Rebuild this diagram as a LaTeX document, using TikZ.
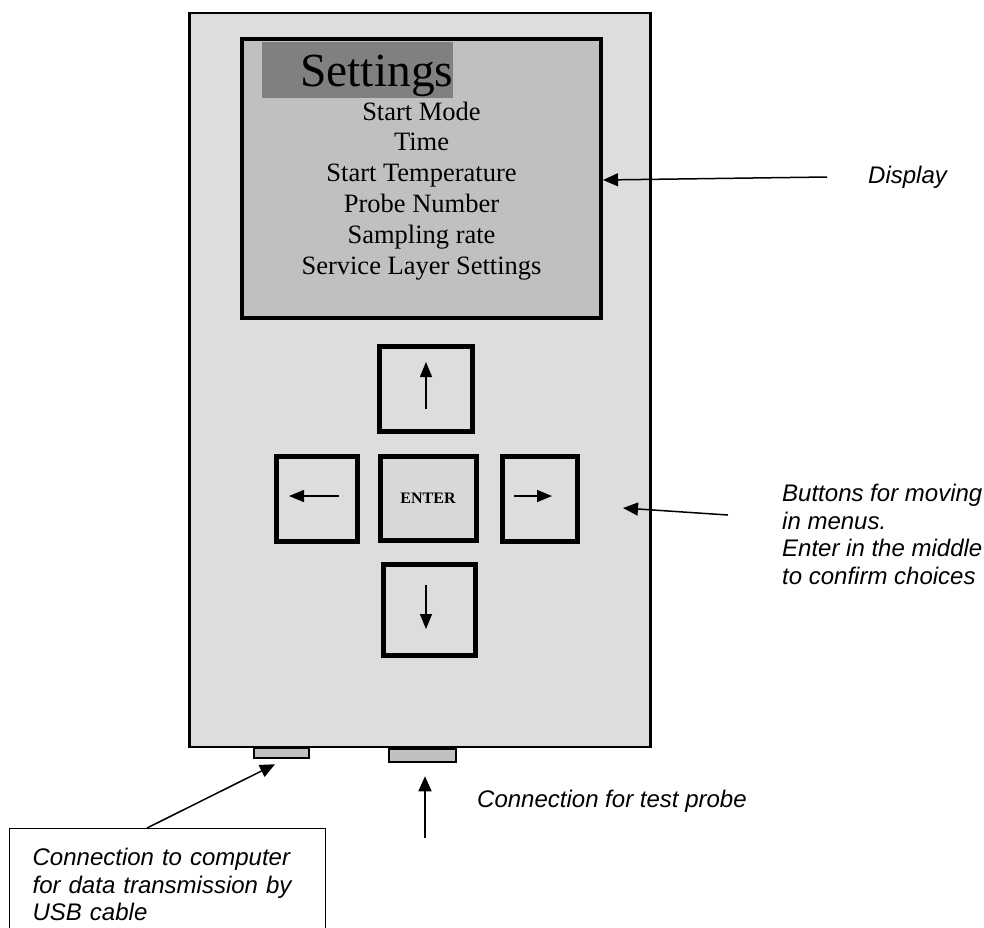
\documentclass[tikz,border=0pt]{standalone}
\usepackage{fontspec}
\setmainfont{Liberation Serif}
\newfontfamily\notefont{Liberation Sans}
\usetikzlibrary{arrows.meta}
\definecolor{casegray}{HTML}{DDDDDD}
\definecolor{screengray}{HTML}{C0C0C0}
\definecolor{titlegray}{HTML}{808080}
\definecolor{entergray}{HTML}{D8D8D8}
\begin{document}
\begin{tikzpicture}[x=1pt,y=-1pt]
    \tikzset{
        keybox/.style={draw,line width=5pt,fill=casegray,inner sep=0pt},
        portbox/.style={draw,line width=2.5pt,fill=screengray,inner sep=0pt},
        keyarrow/.style={line width=1.3pt,-{Triangle[length=15pt,width=12pt]}},
        pointer/.style={line width=1.5pt,-{Triangle[length=15pt,width=13pt]}},
        notetext/.style={font=\notefont\itshape\fontsize{24}{27.5}\selectfont,inner sep=0pt,align=left},}
    \useasboundingbox (0,0) rectangle (984,927);
    % case and screen
    \node[draw,line width=2.5pt,fill=casegray,inner sep=0pt,minimum width=461pt,minimum height=734pt] (case) at (420,380) {};
    \node[draw,line width=4pt,fill=screengray,inner sep=0pt,minimum width=359pt,minimum height=279pt] (screen) at (421.5,178.5) {};
    \node[fill=titlegray,inner sep=0pt,minimum width=191pt,minimum height=56pt] (title) at (357.5,70) {};
    \node[anchor=base west,inner sep=0pt,font=\fontsize{47.5}{48}\selectfont] (titletext) at (300,86) {Settings};
    \foreach \entry [count=\i] in {Start Mode,Time,Start Temperature,Probe Number,Sampling rate,Service Layer Settings}
        \node[anchor=base,inner sep=0pt,font=\fontsize{26.5}{30}\selectfont] (menu\i) at (421.5,{89.2+30.8*\i}) {\entry};
    % keys
    \node[keybox,minimum width=93pt,minimum height=85pt] (keyUp) at (426,388.5) {};
    \node[keybox,minimum width=81.5pt,minimum height=85pt] (keyLeft) at (316.75,498.5) {};
    \node[keybox,fill=entergray,minimum width=96pt,minimum height=83.5pt,font=\bfseries\fontsize{16}{16}\selectfont] (keyEnter) at (428,498.3) {ENTER};
    \node[keybox,minimum width=75.5pt,minimum height=85pt] (keyRight) at (539.75,498.5) {};
    \node[keybox,minimum width=92.5pt,minimum height=91pt] (keyDown) at (429.25,609.5) {};
    \draw[keyarrow] ([yshift=-20.5pt]keyUp.center) -- ([yshift=26.5pt]keyUp.center);
    \draw[keyarrow] ([xshift=22.25pt,yshift=2.5pt]keyLeft.center) -- ([xshift=-27.75pt,yshift=2.5pt]keyLeft.center);
    \draw[keyarrow] ([xshift=-25.75pt,yshift=2.5pt]keyRight.center) -- ([xshift=12.25pt,yshift=2.5pt]keyRight.center);
    \draw[keyarrow] ([xshift=-3.25pt,yshift=24.5pt]keyDown.center) -- ([xshift=-3.25pt,yshift=-19.5pt]keyDown.center);
    % ports
    \node[portbox,minimum width=55pt,minimum height=10pt] (usb) at (281.5,753) {};
    \node[portbox,minimum width=67pt,minimum height=13pt] (probe) at (422.5,755.5) {};
    % notes
    \node[notetext,anchor=base west] (dispNote) at (868,183) {Display};
    \node[notetext,anchor=north west] (keysNote) at (782,484) {Buttons for moving\\in menus.\\Enter in the middle\\to confirm choices};
    \node[notetext,anchor=base west] (probeNote) at (477,807) {Connection for test probe};
    \node[notetext,draw,line width=1.3pt,anchor=north west,text width=270pt,inner xsep=23pt,inner ysep=14.5pt,minimum height=112pt] (usbNote) at (9,828) {Connection to computer\\for data transmission by\\USB cable};
    \coordinate (dispTail) at (827,177);
    \coordinate (keysTail) at (728,515);
    \coordinate (keysTip) at (623,508);
    \coordinate (probeTail) at (425,838);
    \draw[pointer] (dispTail) -- ([yshift=-1.5pt]screen.east);
    \draw[pointer] (keysTail) -- (keysTip);
    \draw[pointer] ([xshift=138pt]usbNote.north west) -- ([xshift=-6.5pt,yshift=-5pt]usb.south);
    \draw[pointer] (probeTail) -- ([yshift=-13pt]probeTail |- probe.south);
\end{tikzpicture}
\end{document}
